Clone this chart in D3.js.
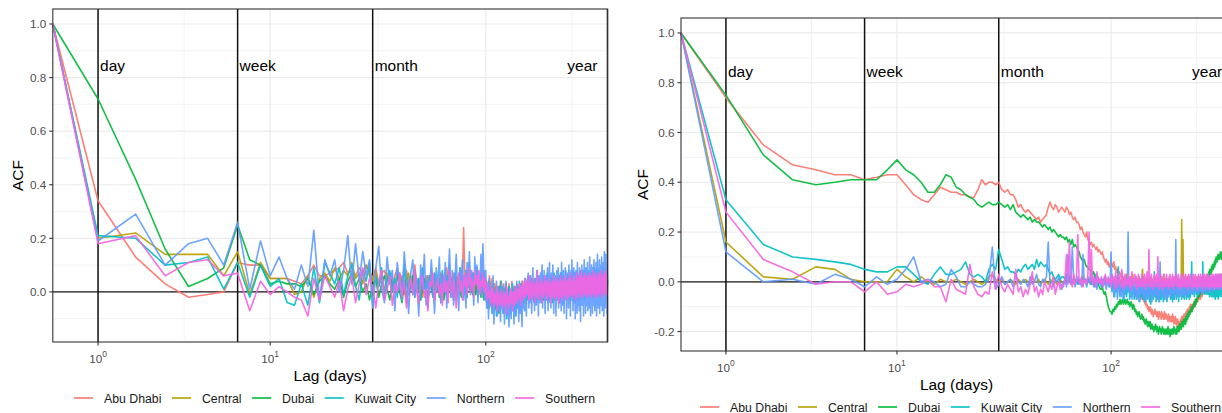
<!DOCTYPE html>
<html>
<head>
<meta charset="utf-8">
<script src="https://cdn.jsdelivr.net/npm/d3@7"></script>
<style>
body { margin: 0; background: #fff; }
text { font-family: "Liberation Sans", Arial, sans-serif; }
</style>
</head>
<body>
<svg width="1222" height="413"></svg>
<script>
let regions = ['Abu Dhabi', 'Central', 'Dubai', 'Kuwait City', 'Northern', 'Southern']
let colors = ['#F8766D', '#B79F00', '#00BA38', '#00BFC4', '#619CFF', '#F564E3']
let periodNames = ['day', 'week', 'month', 'year']
let periodLags = [1, 7, 30, 365]
let xTickLags = [1, 10, 100]
let xTickExps = ['0', '1', '2']
let yTicksLeft = [0, 0.2, 0.4, 0.6, 0.8, 1.0]
let yTicksRight = [-0.2, 0, 0.2, 0.4, 0.6, 0.8, 1.0]

// ACF x 100, one value per lag 0..365 days (left chart)
let abuDhabiLeft = [
100,34,13,3,-2,-1,0,11,10,10,
5,5,5,4,3,6,10,6,6,7,
8,9,11,7,8,6,9,7,10,8,
5,9,3,7,8,4,7,2,6,9,
3,6,1,8,4,2,6,10,3,5,
1,7,3,6,2,4,8,0,5,3,
6,2,7,4,1,5,9,3,6,2,
4,7,1,5,3,6,2,8,5,24,
6,2,5,8,3,1,6,4,7,2,
5,3,8,1,4,6,2,7,3,5,
0,4,-2,3,6,-1,2,5,-3,1,
3,-2,2,0,-4,2,-1,4,-3,1,
-2,3,-4,0,2,-3,1,-5,3,-1,
0,-3,4,-2,1,-4,2,0,-3,3,
-1,2,-4,1,3,-2,0,4,-3,2,
1,-2,3,0,-3,4,-1,2,-2,3,
2,-1,3,0,-2,1,4,-1,2,0,
-3,1,3,-1,2,-2,0,4,1,-2,
2,-1,1,3,-3,0,4,-1,1,2,
-2,2,0,4,-1,1,-3,3,0,2,
5,-1,1,-2,3,0,4,-3,2,0,
3,-1,2,5,-2,1,3,0,4,-2,
1,3,-1,2,6,0,-3,3,1,4,
-1,2,5,0,3,-2,1,4,-1,2,
6,1,-2,3,0,4,2,-1,5,1,
3,-2,2,4,0,6,-1,1,3,5,
0,2,-3,4,1,3,7,-1,2,5,
1,4,0,3,-2,5,2,6,1,3,
-1,4,2,7,0,3,5,-2,2,4,
1,6,3,-1,4,2,7,0,3,1,
5,2,-2,4,1,6,3,0,5,2,
-1,4,7,1,3,5,0,2,6,1,
4,-1,3,5,2,7,0,3,1,5,
2,6,0,4,1,3,8,-1,2,5,
1,4,6,0,3,2,5,-1,4,7,
1,3,0,5,2,6,1,4,-1,3,
5,2,7,1,4,3]
let centralLeft = [
100,20,22,14,14,14,6,15,-1,11,
5,5,5,-1,0,6,-2,5,7,4,
9,5,8,6,11,5,7,3,10,6,
4,8,2,6,0,7,3,5,1,6,
2,5,-1,4,7,1,3,6,0,4,
3,-2,5,1,6,2,4,-1,3,5,
0,4,2,6,-2,3,5,1,4,0,
5,2,-1,6,3,4,0,7,2,5,
3,6,1,4,7,2,5,0,6,3,
4,1,7,2,5,3,0,6,2,4,
1,-2,3,0,4,-3,2,-1,3,-4,
0,2,-3,1,-5,2,-1,3,-4,0,
2,-3,1,-4,3,-1,0,-5,2,-2,
1,-4,3,0,-2,2,-5,1,-1,3,
-3,0,2,-4,1,3,-2,0,4,-1,
2,-3,1,4,0,-2,3,1,-1,5,
1,-2,2,-1,3,0,4,-3,1,2,
-2,1,-1,3,0,2,-2,1,4,-1,
-3,2,0,-2,3,1,-1,4,-2,1,
2,-1,3,-3,0,4,1,-2,2,0,
3,-1,1,5,-2,2,0,4,-3,1,
-1,3,1,-2,4,0,2,-4,1,3,
0,4,-2,2,-1,5,1,-3,3,0,
2,-2,4,0,3,-1,1,5,-2,2,
0,3,-1,4,-3,1,2,5,0,-2,
3,1,-1,4,2,-3,0,5,1,3,
-2,2,4,0,3,-1,6,1,-2,2,
4,0,2,-3,3,1,5,-1,2,0,
3,6,-1,1,4,-2,2,5,0,3,
1,4,-2,2,6,0,3,-1,4,1,
5,0,2,-2,3,1,6,-1,2,4,
0,3,5,-2,1,4,0,6,2,-1,
3,1,5,0,4,-2,2,6,1,3,
-1,4,1,7,0,2,5,-2,3,1,
4,0,6,2,-1,3,5,1,4,0,
2,6,-1,3,1,5,0,4,2,7,
1,3,0,5,2,4]
let dubaiLeft = [
100,72,42,16,2,5,9,25,12,10,
3,4,3,3,2,5,-1,4,6,3,
1,5,-2,4,7,2,5,0,3,-3,
2,5,-2,3,6,1,-3,4,2,7,
0,-4,3,5,-1,2,6,-2,4,1,
-3,3,5,0,-2,4,1,6,-1,2,
4,-2,1,5,-3,2,3,-1,6,0,
2,-3,4,1,-1,5,2,-2,3,0,
4,1,-2,5,2,0,3,-1,4,2,
-1,3,5,0,2,-2,4,1,-3,2,
-1,-4,2,-3,-6,0,-2,-5,1,-4,
-7,-2,-5,0,-3,-8,-1,-4,-6,-2,
-5,0,-3,-7,-1,-4,-2,-6,0,-3,
-8,-2,-5,-1,-4,-7,-2,0,-5,-3,
-6,-1,-3,-4,0,-2,-5,1,-3,-1,
0,-4,2,-2,1,-3,3,0,-1,2,
-3,2,-1,3,-2,1,0,4,-3,2,
0,-2,3,1,-1,4,-3,2,0,3,
-2,2,4,-1,1,-3,3,0,5,-1,
2,-2,1,4,0,3,-3,2,-1,5,
1,3,-2,2,4,-1,1,5,0,-3,
3,0,2,-2,4,1,-1,3,6,0,
2,-3,4,1,3,-1,5,0,2,4,
-2,3,1,5,-1,2,4,0,6,1,
3,-1,2,5,0,4,-2,3,1,6,
2,-1,4,1,5,0,3,7,-1,2,
4,1,6,0,3,-1,5,2,4,1,
0,5,2,7,1,4,-1,3,6,2,
4,0,3,5,1,7,2,-1,4,3,
6,1,3,0,5,2,7,1,4,-1,
3,5,1,6,2,4,0,7,3,1,
5,2,-1,4,6,1,3,7,0,4,
2,5,1,3,8,0,4,2,6,1,
3,7,-1,4,2,5,1,6,3,0,
4,6,2,5,0,3,7,1,4,2,
5,1,6,3,-1,4,7,2,5,1,
3,6,2,4,0,5]
let kuwaitCityLeft = [
100,21,20,10,11,13,1,11,-2,10,
2,5,-4,-5,3,-5,9,-4,11,7,
3,9,-1,6,10,2,-3,8,4,11,
-5,6,2,9,-3,4,8,0,5,-2,
7,1,10,-4,3,6,-1,8,2,5,
-3,9,1,4,-6,6,2,-2,7,3,
0,5,-4,8,2,-1,6,3,10,-2,
4,1,7,-3,5,2,9,0,3,6,
-1,8,2,5,11,0,4,7,1,6,
3,9,-2,5,1,7,4,0,8,2,
-3,2,-6,1,4,-5,0,-8,3,-2,
-6,1,-9,0,-3,2,-7,-1,4,-5,
-2,-8,1,-4,3,-10,-1,-5,2,-3,
-7,0,-4,3,-6,-2,1,-9,-3,2,
-5,0,-2,4,-7,1,-3,3,-1,-4,
2,-2,5,0,-3,3,-1,6,1,-2,
3,-2,5,-3,1,0,4,-4,1,5,
-2,2,-4,4,1,6,-3,3,0,5,
2,-4,4,0,6,-2,2,-3,5,1,
3,-2,7,1,-4,4,0,2,6,-3,
1,5,-2,3,-4,4,2,7,0,3,
-3,2,5,0,4,-2,3,6,1,-3,
4,1,7,-2,2,5,0,3,-4,6,
2,-2,4,1,8,0,3,-3,5,2,
-1,4,1,6,-3,3,2,7,0,4,
1,5,-2,3,8,0,2,-4,6,3,
0,4,2,7,-2,5,1,3,-3,6,
3,-1,5,2,8,1,4,0,6,2,
-2,4,7,1,3,-3,5,2,8,0,
4,1,6,-2,3,7,2,5,0,4,
2,8,1,4,-2,6,3,0,5,2,
7,1,4,-2,3,6,2,9,0,4,
1,5,3,8,-1,4,2,6,1,5,
3,0,7,2,5,-1,4,8,1,3,
6,2,4,0,7,3,5,1,9,2,
4,-1,6,3,1,7,2,5,0,4,
3,8,1,5,2,4]
let northernLeft = [
100,19,29,10,18,20,10,26,1,19,
6,13,5,1,10,2,23,-3,12,6,
12,0,8,21,3,18,4,15,6,12,
-6,9,17,1,-4,13,3,8,-7,11,
2,-3,15,4,-8,7,12,-2,5,-9,
10,1,14,-5,6,-1,12,3,-8,9,
2,13,-4,7,0,11,-6,5,16,-2,
8,-5,4,14,1,-7,9,3,12,-3,
6,-6,11,2,15,-1,8,4,-5,13,
3,10,-4,7,1,14,-2,18,5,-3,
8,-6,3,-10,5,-3,1,-8,6,-12,
0,-5,4,-9,2,-7,-1,-11,3,-4,
-8,2,-12,-3,4,-9,0,-6,-13,1,
-4,-10,3,-7,-1,-12,2,-5,-9,4,
-6,-2,-11,1,-8,3,-4,-13,0,-6,
2,-7,5,-3,-9,4,-1,7,-6,2,
-4,6,0,-8,3,9,-2,4,-7,5,
1,-5,8,-1,4,-9,6,2,-4,7,
-2,5,10,-6,3,-1,8,0,-8,4,
6,-3,2,9,-7,4,0,11,-4,3,
-6,7,1,-2,10,3,-8,5,-1,6,
2,-9,4,8,-3,1,9,-6,5,0,
-4,7,3,-7,11,-1,4,-5,8,2,
-8,5,0,9,-3,6,-10,3,7,-2,
4,-6,10,1,-4,8,-9,5,2,-3,
12,-1,6,-7,3,9,-4,0,7,-10,
4,8,-2,5,-8,11,1,-5,6,3,
-7,9,0,4,-11,7,2,-3,10,-5,
5,-1,8,-9,3,12,-4,6,0,-8,
9,2,-5,7,-2,11,-7,4,1,8,
-6,5,13,-3,2,-9,7,0,10,-4,
3,-8,9,1,-5,6,12,-2,4,-7,
8,0,-4,11,3,-9,6,2,14,-3,
5,-6,9,1,-2,12,-8,4,7,-1,
10,-5,3,13,0,-7,8,2,-4,11,
4,-9,6,15,-2,3,-6,9,1,14,
-3,7,2,-8,10,4]
let southernLeft = [
100,18,21,6,11,12,6,7,-7,4,
-1,2,0,-2,-3,-9,5,-3,6,2,
-2,4,-7,1,6,-4,3,9,-1,5,
2,-6,4,8,-3,1,6,-5,3,0,
7,-2,4,-6,2,5,-1,8,0,-4,
3,6,-2,1,-7,4,2,7,-3,1,
5,-1,3,-5,6,0,4,-4,8,2,
-2,5,1,-6,3,7,0,4,-3,6,
2,7,-1,4,9,0,5,3,-2,8,
3,6,1,8,-1,4,2,7,0,5,
1,-3,3,-2,0,-5,2,-4,1,-6,
-1,-4,2,-7,0,-3,-5,1,-2,-6,
-3,0,-5,-1,-8,2,-4,-2,-6,0,
-4,1,-3,-7,0,-2,-5,2,-1,-4,
1,-3,0,3,-2,-5,2,-1,4,-3,
0,3,-2,5,1,-1,4,2,-3,6,
0,-2,3,-3,1,5,-1,2,-4,3,
1,4,-2,8,0,2,-3,3,1,5,
-1,2,-4,4,1,-2,3,0,6,-1,
2,-3,4,0,3,-2,1,5,-1,2,
-4,3,1,4,-2,2,6,-1,1,-3,
4,0,2,-2,5,1,3,-1,-4,4,
1,6,-2,2,0,4,-3,3,1,5,
-1,2,4,-2,6,0,3,1,-3,4,
2,-1,5,1,-2,3,7,0,2,-1,
4,1,-2,5,2,0,6,-1,3,1,
-3,4,2,7,0,3,-2,5,1,4,
0,6,2,-2,3,1,8,-1,4,2,
5,0,3,-2,6,1,4,-1,7,2,
0,4,1,5,-2,3,6,0,2,4,
-1,7,1,3,5,-2,2,6,0,4,
2,-1,5,1,8,3,0,4,-2,6,
1,3,7,-1,4,2,5,0,3,-2,
6,2,4,0,7,1,3,-1,5,2,
0,8,3,1,5,-2,4,2,6,0,
3,1,7,-1,4,2,5,0,8,1,
3,-1,6,2,4,0]

// ACF x 100, one value per lag 0..365 days (right chart)
let abuDhabiRight = [
100,74,55,47,45,43,43,41,42,43,
43,39,35,33,32,35,38,37,36,36,
35,35,34,34,37,41,39,40,40,39,
40,37,36,37,35,35,33,30,31,29,
28,29,28,27,26,25,26,24,25,26,
27,30,32,30,29,31,30,28,29,30,
29,28,30,29,27,28,26,25,26,24,
24,23,21,22,20,19,18,20,17,16,
15,16,14,15,14,13,14,12,13,12,
11,12,10,9,8,9,7,8,6,7,
8,7,6,8,5,6,4,5,3,4,
3,2,4,1,2,0,1,-1,0,-2,
-1,-2,-1,-3,-2,-4,-3,-2,-4,-3,
-5,-4,-3,-5,-6,-4,-5,-7,-6,-5,
-7,-6,-8,-7,-9,-8,-10,-9,-11,-10,
-12,-11,-10,-12,-13,-11,-12,-14,-13,-12,
-11,-13,-12,-14,-13,-12,-15,-13,-12,-14,
-13,-15,-12,-14,-13,-15,-14,-12,-15,-13,
-14,-13,-15,-14,-16,-13,-15,-14,-16,-15,
-14,-16,-15,-13,-16,-14,-17,-15,-16,-14,
-17,-15,-16,-18,-15,-17,-16,-18,-17,-16,
-17,-15,-16,-14,-16,-15,-14,-16,-13,-15,
-14,-13,-15,-12,-14,-13,-11,-13,-12,-11,
-12,-10,-12,-11,-9,-11,-10,-12,-9,-10,
-11,-9,-10,-8,-9,-10,-8,-7,-9,-8,
-7,-8,-6,-8,-7,-5,-7,-6,-5,-6,
-7,-5,-6,-4,-5,-6,-4,-3,-5,-4,
-3,-4,-2,-4,-3,-2,-3,-1,-3,-2,
-2,-1,-3,-1,-2,0,-1,-2,0,-1,
0,-1,1,0,-1,1,0,2,0,1,
1,0,2,1,0,2,1,3,1,0,
2,1,0,2,1,3,2,0,1,2,
1,3,2,0,2,1,3,2,1,2,
3,1,2,4,2,1,3,2,4,1,
2,3,1,4,2,3,1,2,4,3,
2,4,1,3,2,4,3,1,3,2,
4,2,3,1,3,2]
let centralRight = [
100,16,2,1,6,5,1,0,0,0,
5,2,0,2,0,-1,1,0,0,1,
0,-1,0,1,0,-1,0,2,3,1,
0,1,-1,0,1,0,-1,1,0,0,
1,0,-1,2,0,0,1,-1,0,1,
0,-1,1,0,2,0,-1,0,1,0,
-1,0,1,0,0,2,-1,0,1,0,
0,1,-1,0,2,0,1,-1,0,1,
0,-1,1,0,0,2,0,-1,1,0,
1,0,-1,0,2,0,1,0,-1,1,
0,2,-1,1,0,-2,1,0,2,-1,
1,0,-2,2,0,1,-1,0,3,-1,
0,2,-1,1,-2,0,3,1,-1,0,
2,-1,0,1,-2,2,0,-1,1,0,
5,-1,2,0,1,-2,1,0,2,-1,
0,1,-1,2,0,-2,1,0,1,-1,
2,0,-1,1,0,2,-2,1,0,1,
-1,0,2,-1,1,0,3,-1,0,1,
0,2,-1,0,1,-2,1,0,2,0,
-1,1,0,2,-1,0,1,-2,1,0,
2,0,-1,1,0,2,-1,1,0,-2,
1,0,3,25,8,2,17,0,-1,1,
0,2,-1,1,0,-2,1,0,2,-1,
1,0,-1,2,0,1,-2,1,0,2,
-1,0,1,-1,2,0,1,-1,0,1,
0,2,-1,0,1,-2,1,0,2,-1,
1,0,-1,2,0,1,-1,0,1,0,
2,-1,0,1,-2,1,0,2,-1,0,
1,0,2,-1,0,1,-1,2,0,1,
-1,0,1,0,2,-1,1,0,-1,2,
0,1,-1,0,2,0,1,-2,1,0,
2,-1,0,1,0,2,-1,1,0,-1,
1,0,2,-1,1,0,-1,2,0,1,
0,1,-1,2,0,1,-2,1,0,1,
-1,0,2,1,-1,0,1,2,0,-1,
1,0,-1,2,0,1,-1,0,2,1,
0,-1,1,0,2,0]
let dubaiRight = [
100,75,51,41,39,40,41,41,41,45,
49,45,43,40,36,36,39,43,42,38,
37,35,34,33,31,30,31,32,31,31,
32,31,30,31,29,31,28,27,26,27,
26,25,26,24,25,24,24,23,22,23,
22,21,22,20,21,20,19,18,19,18,
18,17,18,16,17,15,17,14,15,14,
13,12,10,9,8,9,7,6,6,5,
5,4,3,4,2,2,0,-1,-2,-3,
-3,-2,-4,-5,-4,-6,-8,-10,-11,-12,
-12,-13,-11,-12,-10,-11,-9,-10,-8,-9,
-7,-9,-8,-7,-9,-8,-7,-9,-8,-7,
-9,-8,-10,-9,-8,-10,-11,-9,-10,-12,
-11,-13,-12,-14,-13,-12,-14,-15,-14,-13,
-15,-14,-16,-15,-17,-16,-15,-17,-18,-16,
-17,-18,-16,-19,-18,-17,-19,-18,-20,-18,
-19,-17,-19,-20,-18,-19,-21,-19,-18,-20,
-19,-21,-20,-18,-20,-19,-21,-20,-19,-21,
-20,-19,-21,-20,-18,-21,-19,-20,-22,-20,
-19,-21,-20,-19,-21,-20,-18,-20,-19,-21,
-20,-19,-21,-18,-20,-19,-18,-20,-17,-19,
-18,-17,-19,-16,-18,-17,-16,-18,-15,-17,
-16,-15,-17,-14,-16,-15,-13,-15,-14,-12,
-14,-13,-12,-13,-11,-12,-10,-11,-12,-10,
-11,-9,-10,-9,-8,-10,-8,-7,-9,-8,
-7,-8,-6,-7,-5,-6,-4,-5,-6,-4,
-5,-3,-4,-3,-2,-4,-2,-1,-3,-1,
-1,0,-2,0,1,-1,1,2,0,2,
1,3,2,1,3,4,2,3,5,3,
4,5,3,6,4,5,7,5,6,5,
7,6,8,6,7,9,7,8,10,8,
9,8,10,9,11,9,10,11,9,10,
11,10,12,10,11,9,11,12,10,11,
10,12,11,9,11,10,12,11,10,12,
11,10,12,11,9,11,10,12,11,10,
12,11,10,11,12,10,11,9,11,10,
12,10,11,9,11,10]
let kuwaitCityRight = [
100,33,15,10,9,8,7,5,4,4,
6,6,3,0,-1,3,6,3,3,4,
5,8,3,2,3,2,0,5,7,5,
13,9,5,6,4,4,3,5,4,6,
7,5,6,7,5,9,6,8,7,6,
7,5,3,4,2,1,2,3,1,2,
2,1,3,0,2,1,-1,2,0,1,
-1,1,0,2,-1,0,1,-2,1,0,
2,-1,0,1,-2,3,0,-1,1,0,
-2,1,0,-1,2,-1,0,1,-2,0,
-1,-4,1,-3,-6,2,-4,-1,6,-3,
-6,0,-4,1,-7,-2,-5,2,-6,-3,
-4,0,-7,-2,1,-6,-3,0,-7,-2,
-4,-7,0,-5,-2,-8,-3,1,-6,-2,
-7,-3,0,-5,-8,-1,-4,-7,0,-5,
-2,-8,-3,-9,0,-5,-2,-7,-3,4,
-6,-1,-8,-3,0,-7,-4,-1,-8,-5,
-1,-7,-3,0,-5,-8,-2,-4,-7,0,
-5,-1,-8,-3,-6,0,-4,-5,-1,-7,
-3,0,-5,-8,-2,-4,-7,-1,-5,0,
-4,-7,-1,-5,0,-3,-8,-2,-6,-3,
0,-5,-2,-7,-3,1,-6,-2,-4,-7,
-1,-5,0,-4,-7,-2,-3,1,-6,-2,
-4,-7,0,-2,-6,1,-4,8,-2,-5,
0,-4,-2,1,-6,-1,-4,-2,1,-5,
-1,-3,-6,1,-2,-1,-5,1,-3,-1,
1,-4,-1,-3,1,-2,-5,8,-3,-1,
-3,1,-2,-5,-1,1,-3,-1,-5,0,
-2,-4,1,-5,-1,-3,0,-6,-2,-1,
-5,-1,-3,-6,0,-4,-2,-6,-1,-4,
-3,-6,-2,0,-4,-7,-1,-3,-6,-2,
-4,0,-6,-2,-3,-7,-1,-5,0,-4,
-2,-6,-3,0,-5,-2,-4,0,-6,-2,
-4,0,-2,-6,-1,-4,0,-5,-2,-6,
0,-4,-2,1,-5,-1,-3,-6,0,-2,
-4,0,-2,-6,-3,1,-5,-1,-2,-4,
0,-3,-6,-1,-4,-2]
let northernRight = [
100,12,0,1,-1,3,1,-2,2,-1,
1,5,10,0,1,0,-2,-1,5,2,
-2,-2,0,-1,-2,-2,-1,1,14,-3,
-1,2,-1,0,1,-2,3,0,-1,1,
0,-2,2,-1,0,3,-1,-2,1,0,
2,16,-1,0,-2,1,0,2,-1,-3,
0,1,-2,11,0,-1,14,1,-2,0,
2,-1,0,-2,11,0,1,-1,2,0,
-1,3,0,-2,1,0,-3,2,0,-1,
1,-2,0,2,-1,-3,0,1,-2,0,
12,-3,0,-6,1,-4,-1,-7,-2,2,
-5,-1,-6,1,-3,-7,0,-4,1,-3,
20,-4,0,-6,-2,-7,1,-4,-1,-6,
-2,1,-7,-4,0,-5,-8,-2,-4,1,
-5,-2,-7,0,-4,-8,-1,-5,1,-4,
-7,0,-4,-5,-1,-8,0,-3,-6,-2,
-5,1,-4,-7,-2,0,-5,-8,-1,8,
-4,0,-6,-2,-5,1,-3,-7,0,-2,
-5,-1,-7,0,-3,-6,-1,1,-5,-3,
0,-6,-2,-5,-3,1,-2,-7,-3,0,
17,-4,0,-5,-2,-6,-3,1,-2,-5,
0,-4,-6,-1,1,-5,-2,0,-4,-6,
-1,-5,1,-3,0,-2,-6,-3,1,-2,
-5,0,-4,-2,1,-5,0,-3,-2,0,
-4,1,-2,-5,0,-2,1,-4,-1,-3,
1,-4,0,-2,-5,1,-3,0,-4,1,
-2,0,-4,1,-3,-5,0,1,-3,-4,
0,1,-4,-2,1,-1,-4,-2,1,-1,
-3,1,-1,-4,1,-3,-1,1,-4,-1,
1,-3,-1,2,-3,0,-2,-4,1,-1,
-3,1,2,-2,-3,1,-1,2,-3,0,
-1,1,-3,2,-2,0,3,-2,1,-3,
2,-2,0,3,-2,1,-3,2,0,-1,
1,3,-2,0,2,-3,0,2,-1,1,
3,-1,0,2,-2,1,3,-3,0,2,
-1,1,2,-2,3,0,-1,2,0,-3,
2,0,-1,3,0,1]
let southernRight = [
100,28,9,4,-1,0,0,-4,0,-5,
-4,-1,-2,-1,1,-2,-2,-8,1,-3,
-4,-5,7,-2,-5,-6,-4,-5,4,-3,
3,-2,-4,-1,-3,-5,5,-4,-2,-6,
-3,-5,-1,4,-4,-2,-6,-3,-5,0,
-2,-4,-1,-3,2,-5,-2,0,-3,-1,
-2,1,11,-1,16,0,-2,3,-1,1,
19,0,-1,2,-2,1,0,-1,3,20,
0,13,-1,2,1,-2,4,0,1,-1,
2,0,-2,1,3,0,-1,2,0,1,
-2,3,0,2,-3,4,0,-2,3,1,
-1,-2,5,2,-3,0,3,-2,1,-1,
3,0,-2,2,-3,4,-1,1,-2,3,
0,2,-3,0,3,-2,1,-1,-2,3,
1,-2,0,3,-1,-3,2,4,0,-2,
13,0,2,-2,3,0,-3,1,-1,3,
-2,1,0,3,-2,10,0,2,-3,0,
3,-2,1,0,-3,2,3,0,-2,1,
-1,3,-2,1,0,-3,2,0,3,-2,
1,-1,-2,3,0,2,-3,0,2,-1,
3,-1,1,-2,0,3,-2,1,0,-3,
2,0,3,-2,1,-1,-2,3,0,1,
-2,0,3,1,-2,0,2,-3,0,3,
0,2,-2,0,3,-1,1,-1,-3,2,
0,3,-2,1,-1,-2,3,0,2,-2,
1,-1,-3,2,0,3,-2,0,2,-1,
0,3,1,-2,0,2,-3,0,3,1,
-2,0,2,3,-1,0,-3,2,0,3,
1,-2,0,3,-1,-2,2,0,-3,1,
0,2,-2,3,0,1,-2,0,3,-1,
2,-1,-3,1,0,3,-2,1,0,-2,
3,0,1,-2,0,2,-3,0,1,3,
-2,0,2,-1,3,-2,1,0,-2,2,
0,3,-2,1,0,-3,2,0,3,-2,
1,0,-2,3,0,2,-1,0,2,-1,
3,-2,0,1,-2,0,3,1,-2,0,
2,-1,3,-2,0,1]

let leftSeries = [abuDhabiLeft, centralLeft, dubaiLeft, kuwaitCityLeft, northernLeft, southernLeft]
let rightSeries = [abuDhabiRight, centralRight, dubaiRight, kuwaitCityRight, northernRight, southernRight]

let svg = d3.select('svg')

drawPanel(leftSeries, {
    left: 52.8, right: 607.5, top: 9, bottom: 342,
    yMin: -0.187, yMax: 1.056, yTicks: yTicksLeft,
    tickLabelY: 363, titleY: 381, acfX: 17, legendX: 74, legendY: 398
})
drawPanel(rightSeries, {
    left: 681, right: 1232, top: 18, bottom: 351,
    yMin: -0.278, yMax: 1.06, yTicks: yTicksRight,
    tickLabelY: 372, titleY: 390, acfX: 642, legendX: 700, legendY: 407
})

function drawPanel(series, p) {
    let tMax = Math.asinh(365 / 2)
    let xs = d3.scaleLinear().domain([0, tMax]).range([p.left, p.right])
    // pseudo-log axis (asinh, sigma = 1)
    let x = lag => xs(Math.asinh(lag / 2))
    let y = d3.scaleLinear().domain([p.yMin, p.yMax]).range([p.bottom, p.top])
    let g = svg.append('g')

    g.append('rect')
        .attr('x', p.left).attr('y', p.top)
        .attr('width', p.right - p.left).attr('height', p.bottom - p.top)
        .attr('fill', '#fff')

    // grid
    let tMaj = xTickLags.map(d => Math.asinh(d / 2))
    let step = tMaj[1] - tMaj[0]
    let tMin = [tMaj[0] - step / 2, (tMaj[0] + tMaj[1]) / 2, (tMaj[1] + tMaj[2]) / 2, tMaj[2] + step / 2]
        .filter(t => t > 0 && t < tMax)
    let yAll = d3.range(-0.3, 1.15, 0.1).map(v => Math.round(v * 10) / 10)
    let yMinor = yAll.filter(v => Math.round(v * 10) % 2 !== 0 && v > p.yMin && v < p.yMax)
    let yMajor = yAll.filter(v => Math.round(v * 10) % 2 === 0 && v > p.yMin && v < p.yMax)

    g.selectAll('line.xminor').data(tMin).enter().append('line')
        .attr('x1', d => xs(d)).attr('x2', d => xs(d))
        .attr('y1', p.top).attr('y2', p.bottom)
        .attr('stroke', '#EBEBEB').attr('stroke-width', 0.6)
    g.selectAll('line.yminor').data(yMinor).enter().append('line')
        .attr('x1', p.left).attr('x2', p.right)
        .attr('y1', d => y(d)).attr('y2', d => y(d))
        .attr('stroke', '#EBEBEB').attr('stroke-width', 0.6)
    g.selectAll('line.xmajor').data(xTickLags).enter().append('line')
        .attr('x1', d => x(d)).attr('x2', d => x(d))
        .attr('y1', p.top).attr('y2', p.bottom)
        .attr('stroke', '#EBEBEB').attr('stroke-width', 1.2)
    g.selectAll('line.ymajor').data(yMajor).enter().append('line')
        .attr('x1', p.left).attr('x2', p.right)
        .attr('y1', d => y(d)).attr('y2', d => y(d))
        .attr('stroke', '#EBEBEB').attr('stroke-width', 1.2)

    // reference lines
    g.append('line')
        .attr('x1', p.left).attr('x2', p.right)
        .attr('y1', y(0)).attr('y2', y(0))
        .attr('stroke', '#1a1a1a').attr('stroke-width', 1.3)
    g.selectAll('line.period').data(periodLags).enter().append('line')
        .attr('x1', d => x(d)).attr('x2', d => x(d))
        .attr('y1', p.top).attr('y2', p.bottom)
        .attr('stroke', '#111').attr('stroke-width', 1.5)

    // ACF lines
    let line = d3.line()
        .x((d, i) => x(i))
        .y(d => y(d / 100))
    g.selectAll('path.acf').data(series).enter().append('path')
        .attr('d', line)
        .attr('fill', 'none')
        .attr('stroke', (d, i) => colors[i])
        .attr('stroke-width', 1.6)
        .attr('stroke-linejoin', 'round')
        .attr('opacity', 0.92)

    // period labels
    g.selectAll('text.period').data(periodNames).enter().append('text')
        .text(d => d)
        .attr('x', (d, i) => i < 3 ? x(periodLags[i]) + 2 : x(238))
        .attr('y', y(0.85) + 6.5)
        .attr('font-size', 15.5)
        .attr('fill', '#000')

    // border
    g.append('rect')
        .attr('x', p.left).attr('y', p.top)
        .attr('width', p.right - p.left).attr('height', p.bottom - p.top)
        .attr('fill', 'none').attr('stroke', '#333').attr('stroke-width', 1.1)

    // axes ticks
    g.selectAll('line.ytick').data(p.yTicks).enter().append('line')
        .attr('x1', p.left - 3.5).attr('x2', p.left)
        .attr('y1', d => y(d)).attr('y2', d => y(d))
        .attr('stroke', '#333').attr('stroke-width', 1.1)
    g.selectAll('text.ytick').data(p.yTicks).enter().append('text')
        .text(d => d3.format('.1f')(d).replace('−', '-'))
        .attr('x', p.left - 6.5)
        .attr('y', d => y(d) + 4.2)
        .attr('text-anchor', 'end')
        .attr('font-size', 11.7)
        .attr('fill', '#4D4D4D')
    g.selectAll('line.xtick').data(xTickLags).enter().append('line')
        .attr('x1', d => x(d)).attr('x2', d => x(d))
        .attr('y1', p.bottom).attr('y2', p.bottom + 3.5)
        .attr('stroke', '#333').attr('stroke-width', 1.1)
    let xl = g.selectAll('text.xtick').data(xTickLags).enter().append('text')
        .attr('x', d => x(d))
        .attr('y', p.tickLabelY)
        .attr('text-anchor', 'middle')
        .attr('font-size', 11.7)
        .attr('fill', '#4D4D4D')
    xl.append('tspan').text('10')
    xl.append('tspan').text((d, i) => xTickExps[i])
        .attr('dy', -6).attr('font-size', 8.5)

    // titles
    svg.append('text')
        .text('Lag (days)')
        .attr('x', (p.left + p.right) / 2)
        .attr('y', p.titleY)
        .attr('text-anchor', 'middle')
        .attr('font-size', 15.5)
    svg.append('text')
        .text('ACF')
        .attr('transform', 'translate(' + (p.acfX + 5.5) + ',' + ((p.top + p.bottom) / 2) + ') rotate(-90)')
        .attr('text-anchor', 'middle')
        .attr('font-size', 15.5)

    // legend
    let lg = svg.append('g')
    let cx = p.legendX
    regions.forEach((r, i) => {
        lg.append('line')
            .attr('x1', cx).attr('x2', cx + 19)
            .attr('y1', p.legendY).attr('y2', p.legendY)
            .attr('stroke', colors[i]).attr('stroke-width', 1.6)
        let t = lg.append('text')
            .text(r)
            .attr('x', cx + 30)
            .attr('y', p.legendY + 4.5)
            .attr('font-size', 12.3)
            .attr('fill', '#1a1a1a')
        cx += 30 + t.node().getComputedTextLength() + 10.5
    })
}
</script>
</body>
</html>
